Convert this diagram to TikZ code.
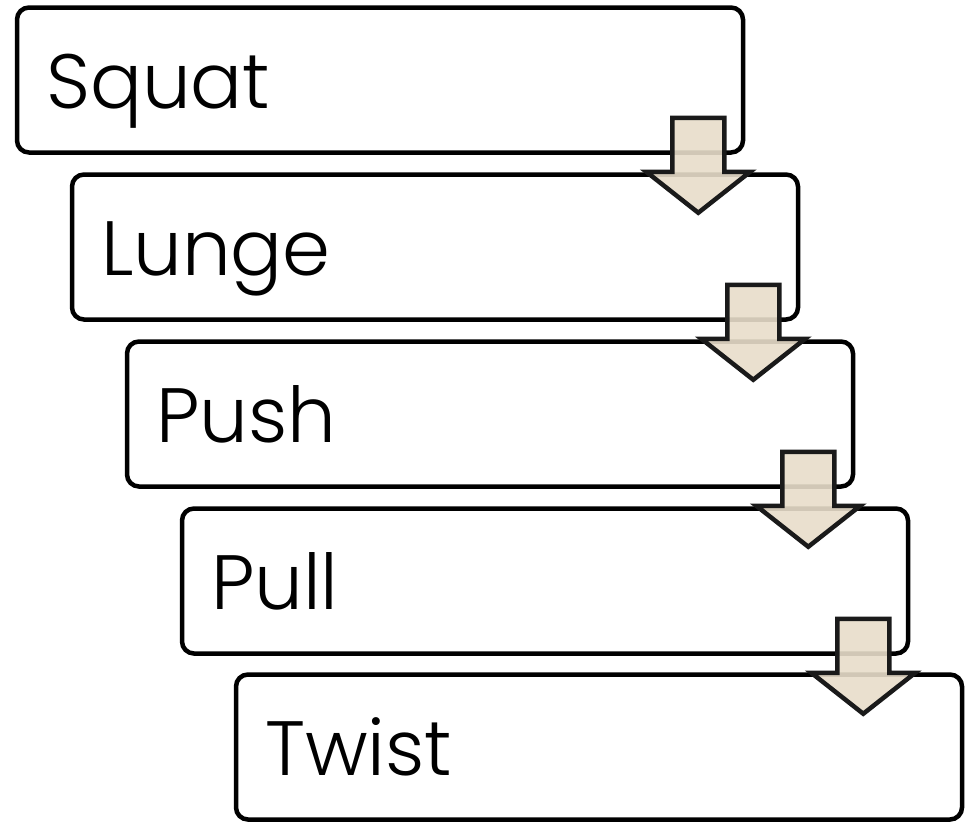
\documentclass[tikz,border=0pt]{standalone}
\usepackage{fontspec}
\setmainfont{Poppins}[UprightFont=* Light]
\usetikzlibrary{calc}
\definecolor{arrowfill}{RGB}{232,221,202}
\definecolor{arrowline}{RGB}{26,26,26}
\tikzset{
  stepbox/.style={draw=black, line width=4.5pt, rounded corners=12pt, fill=white,
    minimum width=726pt, minimum height=145pt, inner sep=0pt,
    text width=668pt, text height=64pt, text depth=8pt,
    align=left, font=\fontsize{77}{90}\selectfont},
  downarrow/.style={fill=arrowfill, fill opacity=0.9, draw=arrowline,
    draw opacity=1, line width=4.5pt, line join=miter}
}
\begin{document}
\begin{tikzpicture}[x=1pt,y=-1pt]
  \useasboundingbox (0,0) rectangle (965,822);
  % the five stacked steps
  \node[stepbox] (s1) at (380,80)  {Squat};
  \node[stepbox] (s2) at (435,247) {Lunge};
  \node[stepbox] (s3) at (490,414) {Push};
  \node[stepbox] (s4) at (545,581) {Pull};
  \node[stepbox] (s5) at (599,747) {Twist};
  % block arrows between consecutive steps
  \foreach \a/\b in {s1/s2, s2/s3, s3/s4, s4/s5} {
    \path (\a.south east) ++(-47,10) coordinate (\a-\b);
    \draw[downarrow]
      ($(\a-\b)+(-26,-47)$) -- ($(\a-\b)+(26,-47)$) -- ($(\a-\b)+(26,7)$)
      -- ($(\a-\b)+(52,7)$) -- ($(\a-\b)+(0,48)$) -- ($(\a-\b)+(-52,7)$)
      -- ($(\a-\b)+(-26,7)$) -- cycle;
  }
\end{tikzpicture}
\end{document}
